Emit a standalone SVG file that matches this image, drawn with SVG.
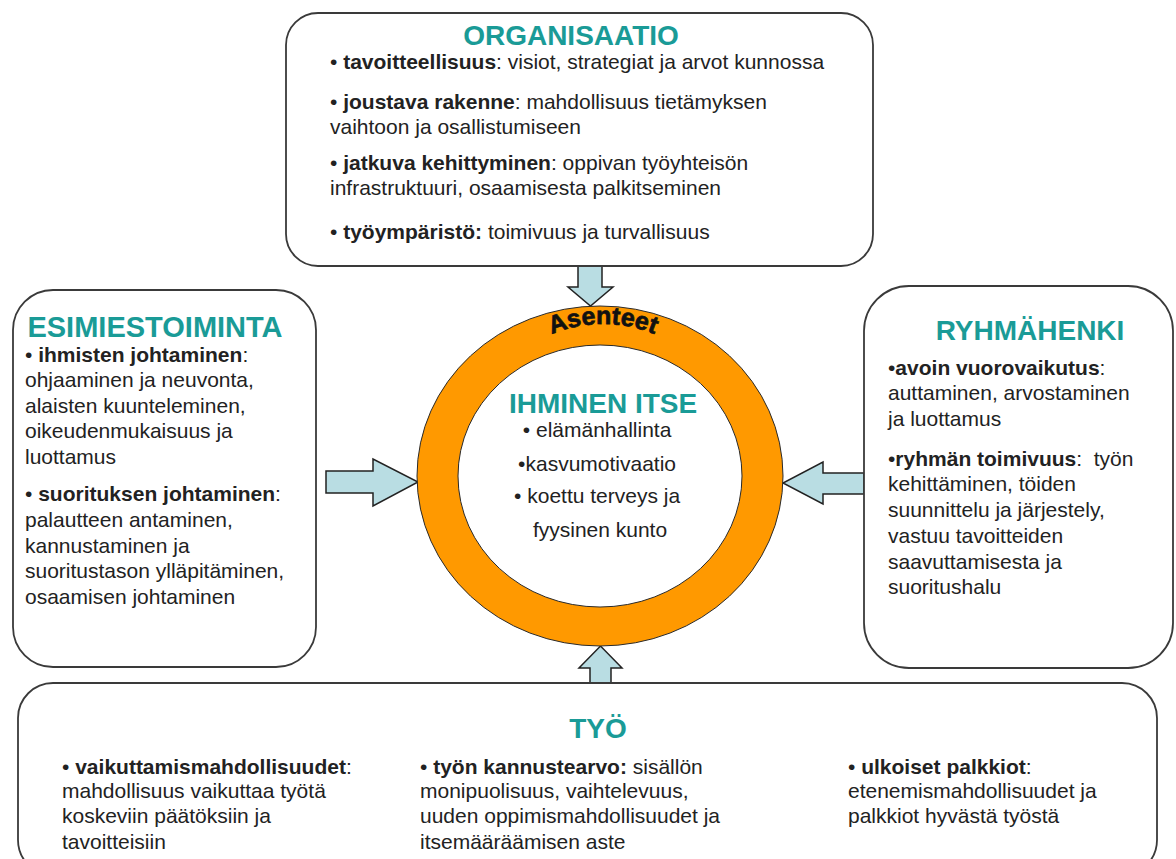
<svg xmlns="http://www.w3.org/2000/svg" width="1176" height="859" viewBox="0 0 1176 859">
  <style>
    .box { fill: #ffffff; stroke: #3a3a3a; stroke-width: 1.8; }
    .h { font-family: "Liberation Sans", Arial, sans-serif; font-weight: bold; font-size: 28px; fill: #1a9b97; }
    .t { font-family: "Liberation Sans", Arial, sans-serif; font-size: 21px; fill: #222222; }
    .b { font-weight: bold; }
    .arrow { fill: #b9dde3; stroke: #222222; stroke-width: 1.5; stroke-linejoin: miter; }
    .ring { fill: #ff9900; stroke: #2a2a2a; stroke-width: 1; }
    .core { fill: #ffffff; stroke: #2a2a2a; stroke-width: 1; }
    .arc { font-family: "Liberation Sans", Arial, sans-serif; font-weight: bold; font-size: 25px; fill: #111111; stroke: #111111; stroke-width: 0.7; }
  </style>
  <defs>
    <path id="attitudeArc" d="M 468,459 A 135 135 0 0 1 738,459"/>
  </defs>

  <rect width="1176" height="859" fill="#ffffff"/>

  <!-- block arrows pointing at the centre -->
  <g id="connectors">
    <polygon class="arrow" points="578,266 602,266 602,287 613,287 590.5,306 568,287 578,287"/>
    <polygon class="arrow" points="326,471 373,471 373,459 418,482 373,506 373,493 326,493"/>
    <polygon class="arrow" points="864,473 823,473 823,462 783,483 823,504 823,494 864,494"/>
    <polygon class="arrow" points="590,683 611,683 611,668 622,668 600.5,646 579,668 590,668"/>
  </g>

  <!-- centre: the person, surrounded by attitudes -->
  <g id="ihminen-itse">
    <ellipse class="ring" cx="600" cy="476" rx="183" ry="170"/>
    <ellipse class="core" cx="600" cy="476" rx="142" ry="131"/>
    <text class="arc"><textPath href="#attitudeArc" startOffset="50%" text-anchor="middle">Asenteet</textPath></text>
    <text class="h" x="603" y="413" text-anchor="middle">IHMINEN ITSE</text>
    <text class="t" text-anchor="middle">
      <tspan x="600" y="437">• elämänhallinta</tspan>
      <tspan x="600" y="471">•kasvumotivaatio</tspan>
      <tspan x="600" y="503">• koettu terveys ja</tspan>
      <tspan x="600" y="537">fyysinen kunto</tspan>
    </text>
  </g>

  <!-- organisation -->
  <g id="organisaatio">
    <rect class="box" x="286" y="13" width="587" height="253" rx="32" ry="32"/>
    <text class="h" x="571" y="45" text-anchor="middle">ORGANISAATIO</text>
    <text class="t" x="330" y="69">• <tspan class="b">tavoitteellisuus</tspan>: visiot, strategiat ja arvot kunnossa</text>
    <text class="t" x="330" y="109">• <tspan class="b">joustava rakenne</tspan>: mahdollisuus tietämyksen</text>
    <text class="t" x="330" y="134">vaihtoon ja osallistumiseen</text>
    <text class="t" x="330" y="170">• <tspan class="b">jatkuva kehittyminen</tspan>: oppivan työyhteisön</text>
    <text class="t" x="330" y="195">infrastruktuuri, osaamisesta palkitseminen</text>
    <text class="t" x="330" y="239">• <tspan class="b">työympäristö:</tspan> toimivuus ja turvallisuus</text>
  </g>

  <!-- supervisor work -->
  <g id="esimiestoiminta">
    <rect class="box" x="13" y="290" width="303" height="377" rx="40" ry="40"/>
    <text class="h" x="155" y="337" text-anchor="middle" style="font-size:29px">ESIMIESTOIMINTA</text>
    <text class="t" x="25" y="362">• <tspan class="b">ihmisten johtaminen</tspan>:</text>
    <text class="t" x="25" y="387">ohjaaminen ja neuvonta,</text>
    <text class="t" x="25" y="413">alaisten kuunteleminen,</text>
    <text class="t" x="25" y="438">oikeudenmukaisuus ja</text>
    <text class="t" x="25" y="464">luottamus</text>
    <text class="t" x="25" y="501">• <tspan class="b">suorituksen johtaminen</tspan>:</text>
    <text class="t" x="25" y="527">palautteen antaminen,</text>
    <text class="t" x="25" y="553">kannustaminen ja</text>
    <text class="t" x="25" y="578">suoritustason ylläpitäminen,</text>
    <text class="t" x="25" y="604">osaamisen johtaminen</text>
  </g>

  <!-- team spirit -->
  <g id="ryhmahenki">
    <rect class="box" x="864" y="286" width="309" height="382" rx="45" ry="45"/>
    <text class="h" x="1030" y="340" text-anchor="middle">RYHMÄHENKI</text>
    <text class="t" x="888" y="375">•<tspan class="b">avoin vuorovaikutus</tspan>:</text>
    <text class="t" x="888" y="400">auttaminen, arvostaminen</text>
    <text class="t" x="888" y="426">ja luottamus</text>
    <text class="t" x="888" y="466" xml:space="preserve">•<tspan class="b">ryhmän toimivuus</tspan>:  työn</text>
    <text class="t" x="888" y="491">kehittäminen, töiden</text>
    <text class="t" x="888" y="517">suunnittelu ja järjestely,</text>
    <text class="t" x="888" y="543">vastuu tavoitteiden</text>
    <text class="t" x="888" y="569">saavuttamisesta ja</text>
    <text class="t" x="888" y="594">suoritushalu</text>
  </g>

  <!-- the work itself -->
  <g id="tyo">
    <rect class="box" x="18" y="683" width="1139" height="192" rx="35" ry="35"/>
    <text class="h" x="598" y="738" text-anchor="middle">TYÖ</text>
    <text class="t" x="62" y="774">• <tspan class="b">vaikuttamismahdollisuudet</tspan>:</text>
    <text class="t" x="62" y="798">mahdollisuus vaikuttaa työtä</text>
    <text class="t" x="62" y="823">koskeviin päätöksiin ja</text>
    <text class="t" x="62" y="849">tavoitteisiin</text>
    <text class="t" x="420" y="774">• <tspan class="b">työn kannustearvo:</tspan> sisällön</text>
    <text class="t" x="420" y="798">monipuolisuus, vaihtelevuus,</text>
    <text class="t" x="420" y="823">uuden oppimismahdollisuudet ja</text>
    <text class="t" x="420" y="849">itsemääräämisen aste</text>
    <text class="t" x="848" y="774">• <tspan class="b">ulkoiset palkkiot</tspan>:</text>
    <text class="t" x="848" y="798">etenemismahdollisuudet ja</text>
    <text class="t" x="848" y="823">palkkiot hyvästä työstä</text>
  </g>
</svg>
